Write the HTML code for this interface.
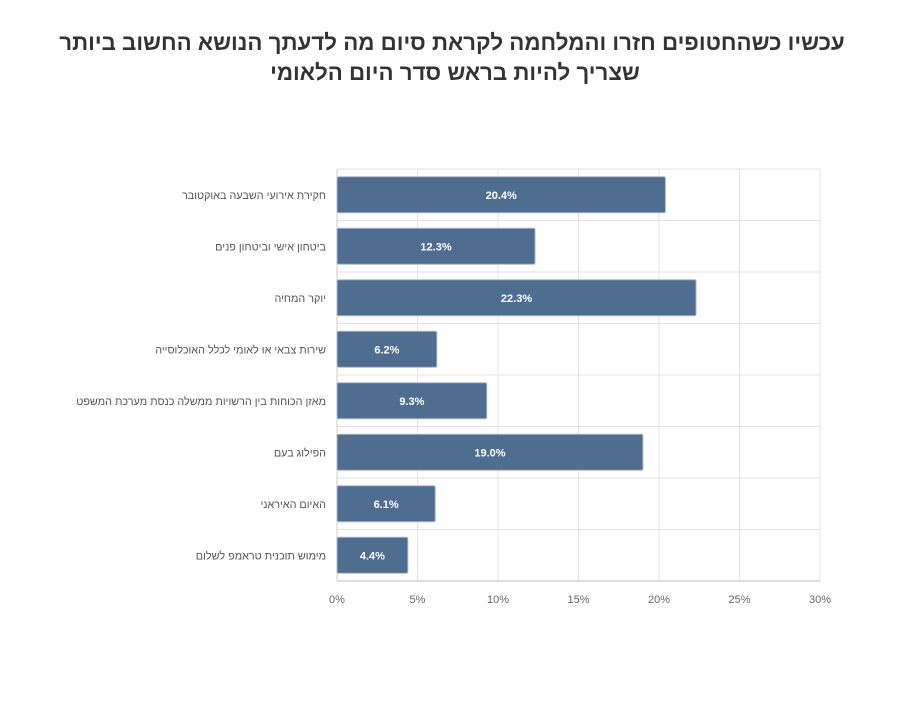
<!DOCTYPE html>
<html><head><meta charset="utf-8"><style>
body{margin:0;background:#fff;width:900px;height:700px;overflow:hidden;font-family:"Liberation Sans","Noto Sans CJK SC",sans-serif}
</style></head><body>
<svg width="900" height="700" xmlns="http://www.w3.org/2000/svg">
<text x="452" y="50" text-anchor="middle" font-size="22.3" font-weight="bold" fill="#333" direction="rtl">עכשיו כשהחטופים חזרו והמלחמה לקראת סיום מה לדעתך הנושא החשוב ביותר</text>
<text x="455" y="80" text-anchor="middle" font-size="22.3" font-weight="bold" fill="#333" direction="rtl">שצריך להיות בראש סדר היום הלאומי</text>
<g id="plot"></g>
</svg>
<script>
const categories=["חקירת אירועי השבעה באוקטובר","ביטחון אישי וביטחון פנים","יוקר המחיה","שירות צבאי או לאומי לכלל האוכלוסייה","מאזן הכוחות בין הרשויות  ממשלה כנסת מערכת המשפט","הפילוג בעם","האיום האיראני","מימוש תוכנית טראמפ לשלום"];
const values=[20.4,12.3,22.3,6.2,9.3,19.0,6.1,4.4];
const xTicks=[0,5,10,15,20,25,30];
const NS="http://www.w3.org/2000/svg";
const plotG=document.getElementById('plot');
const x0=337,x1=820,plotTop=169,plotBottom=581,xMax=30;
const xs=v=>x0+(v/xMax)*(x1-x0);
const rowH=(plotBottom-plotTop)/categories.length;
function mk(t,a,txt){const e=document.createElementNS(NS,t);for(const k in a)e.setAttribute(k,a[k]);if(txt!==undefined)e.textContent=txt;plotG.appendChild(e);return e;}
for(let i=0;i<=categories.length;i++){
  const y=plotTop+i*rowH;
  const l=mk('line',{x1:x0,x2:x1,y1:y,y2:y,stroke:'#e3e3e3'});
  
  
}
xTicks.forEach(t=>{
  const l=mk('line',{x1:xs(t),x2:xs(t),y1:plotTop,y2:plotBottom,stroke:t===0?'#ccc':'#e3e3e3'});
  
  
  const tx=mk('text',{x:xs(t),y:603,'text-anchor':'middle','font-size':11,fill:'#666'},t+'%');
  
  
});
const ax=mk('line',{x1:x0,x2:x1,y1:plotBottom,y2:plotBottom,stroke:'#bbb'});


categories.forEach((c,i)=>{
  const yc=plotTop+i*rowH+rowH/2;
  const lab=mk('text',{x:326,y:yc+4,'text-anchor':'start','font-size':10.8,fill:'#555',direction:'rtl'},c);
  
  
  const b=mk('rect',{x:x0,y:yc-18,width:xs(values[i])-x0,height:36,fill:'#4f6d8f',stroke:'#a9b8cc','stroke-width':1,rx:1.5});
  
  
  const vt=mk('text',{x:(x0+xs(values[i]))/2,y:yc+4,'text-anchor':'middle','font-size':11,'font-weight':'bold',fill:'#fff'},values[i].toFixed(1)+'%');
  
  
});
</script>
</body></html>
